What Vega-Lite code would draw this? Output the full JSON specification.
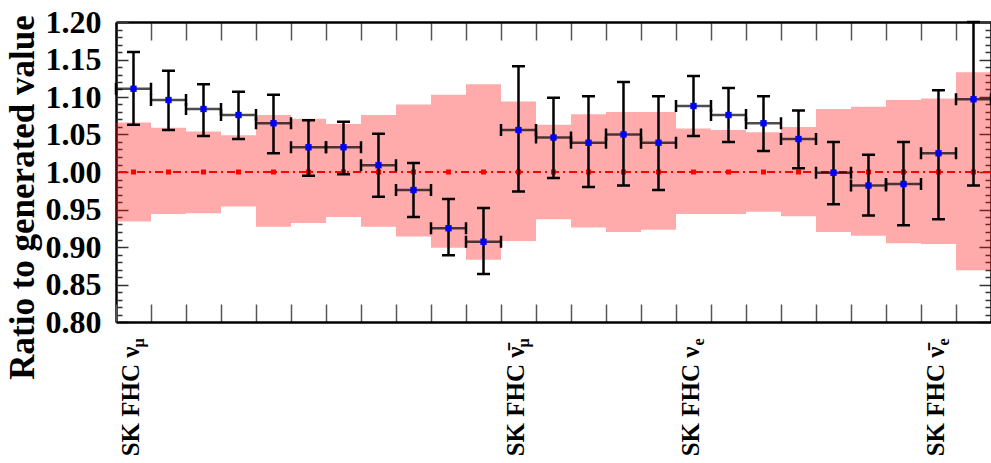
{
  "$schema": "https://vega.github.io/schema/vega-lite/v6.json",
  "width": 875,
  "height": 300,
  "autosize": {"type": "none"},
  "padding": {"left": 116, "top": 22, "right": 0, "bottom": 141},
  "background": "white",
  "config": {"view": {"stroke": null}, "axis": {"grid": false}},
  "data": {"values": [
    {"b": 0, "v": 1.111, "lo": 1.063, "hi": 1.160, "blo": 0.934, "bhi": 1.066},
    {"b": 1, "v": 1.096, "lo": 1.056, "hi": 1.135, "blo": 0.944, "bhi": 1.059},
    {"b": 2, "v": 1.084, "lo": 1.048, "hi": 1.117, "blo": 0.945, "bhi": 1.054},
    {"b": 3, "v": 1.076, "lo": 1.044, "hi": 1.107, "blo": 0.954, "bhi": 1.049},
    {"b": 4, "v": 1.065, "lo": 1.025, "hi": 1.103, "blo": 0.927, "bhi": 1.076},
    {"b": 5, "v": 1.033, "lo": 0.995, "hi": 1.069, "blo": 0.932, "bhi": 1.071},
    {"b": 6, "v": 1.033, "lo": 0.997, "hi": 1.067, "blo": 0.940, "bhi": 1.064},
    {"b": 7, "v": 1.009, "lo": 0.967, "hi": 1.051, "blo": 0.927, "bhi": 1.076},
    {"b": 8, "v": 0.976, "lo": 0.940, "hi": 1.012, "blo": 0.914, "bhi": 1.090},
    {"b": 9, "v": 0.925, "lo": 0.889, "hi": 0.964, "blo": 0.899, "bhi": 1.103},
    {"b": 10, "v": 0.907, "lo": 0.864, "hi": 0.952, "blo": 0.883, "bhi": 1.117},
    {"b": 11, "v": 1.056, "lo": 0.974, "hi": 1.141, "blo": 0.908, "bhi": 1.094},
    {"b": 12, "v": 1.046, "lo": 0.992, "hi": 1.099, "blo": 0.937, "bhi": 1.063},
    {"b": 13, "v": 1.039, "lo": 0.980, "hi": 1.101, "blo": 0.926, "bhi": 1.077},
    {"b": 14, "v": 1.050, "lo": 0.982, "hi": 1.120, "blo": 0.920, "bhi": 1.080},
    {"b": 15, "v": 1.039, "lo": 0.976, "hi": 1.101, "blo": 0.923, "bhi": 1.080},
    {"b": 16, "v": 1.088, "lo": 1.048, "hi": 1.128, "blo": 0.944, "bhi": 1.058},
    {"b": 17, "v": 1.076, "lo": 1.040, "hi": 1.112, "blo": 0.944, "bhi": 1.056},
    {"b": 18, "v": 1.065, "lo": 1.028, "hi": 1.101, "blo": 0.947, "bhi": 1.053},
    {"b": 19, "v": 1.044, "lo": 1.005, "hi": 1.082, "blo": 0.941, "bhi": 1.060},
    {"b": 20, "v": 0.999, "lo": 0.957, "hi": 1.040, "blo": 0.920, "bhi": 1.084},
    {"b": 21, "v": 0.982, "lo": 0.942, "hi": 1.023, "blo": 0.915, "bhi": 1.087},
    {"b": 22, "v": 0.984, "lo": 0.929, "hi": 1.040, "blo": 0.905, "bhi": 1.096},
    {"b": 23, "v": 1.025, "lo": 0.937, "hi": 1.109, "blo": 0.904, "bhi": 1.098},
    {"b": 24, "v": 1.097, "lo": 0.982, "hi": 1.200, "blo": 0.869, "bhi": 1.133}
  ]},
  "resolve": {"axis": {"x": "independent", "y": "independent"}},
  "layer": [
    {
      "mark": {"type": "rect", "fill": "#ff0000", "fillOpacity": 0.33},
      "encoding": {
        "x": {"field": "b", "type": "ordinal", "scale": {"paddingInner": 0, "paddingOuter": 0},
          "axis": {"orient": "bottom", "tickBand": "extent", "labels": false, "title": null, "tickSize": -18, "tickColor": "#555555", "tickWidth": 1.5, "domain": true, "domainColor": "black", "domainWidth": 2.5}},
        "y": {"field": "blo", "type": "quantitative", "scale": {"domain": [0.8, 1.2], "nice": false, "zero": false},
          "axis": {"orient": "left", "values": [0.8, 0.85, 0.9, 0.95, 1.0, 1.05, 1.1, 1.15, 1.2], "format": ".2f", "ticks": false, "domain": true, "domainColor": "black", "domainWidth": 2.5,
            "labelFont": "Liberation Serif", "labelFontWeight": "bold", "labelFontSize": 32, "labelColor": "black", "labelPadding": 15,
            "title": "Ratio to generated value", "titleFont": "Liberation Serif", "titleFontWeight": "bold", "titleFontSize": 35, "titleColor": "black",
            "titleAngle": 270, "titleAlign": "center", "titleBaseline": "alphabetic", "titleX": -83, "titleY": 175}},
        "y2": {"field": "bhi"}
      }
    },
    {
      "mark": {"type": "rule", "color": "#ff0000", "strokeWidth": 1.5, "strokeDash": [8, 4, 2, 4]},
      "encoding": {
        "y": {"datum": 1, "type": "quantitative",
          "axis": {"orient": "left", "values": [0.8, 0.85, 0.9, 0.95, 1.0, 1.05, 1.1, 1.15, 1.2], "labels": false, "domain": false, "title": null, "tickSize": -12, "tickColor": "#333333", "tickWidth": 1.5}}
      }
    },
    {
      "mark": {"type": "point", "shape": "square", "filled": true, "color": "#ff0000", "size": 25, "opacity": 1},
      "encoding": {
        "x": {"field": "b", "type": "ordinal",
          "axis": {"orient": "top", "tickBand": "extent", "labels": false, "title": null, "tickSize": -18, "tickColor": "#555555", "tickWidth": 1.5, "domain": true, "domainColor": "black", "domainWidth": 2.5}},
        "y": {"datum": 1, "type": "quantitative",
          "axis": {"orient": "left", "values": [0.81, 0.82, 0.83, 0.84, 0.86, 0.87, 0.88, 0.89, 0.91, 0.92, 0.93, 0.94, 0.96, 0.97, 0.98, 0.99, 1.01, 1.02, 1.03, 1.04, 1.06, 1.07, 1.08, 1.09, 1.11, 1.12, 1.13, 1.14, 1.16, 1.17, 1.18, 1.19], "labels": false, "domain": false, "title": null, "tickSize": -6, "tickColor": "#333333", "tickWidth": 1.5}}
      }
    },
    {
      "mark": {"type": "rule", "color": "black", "strokeWidth": 2.5},
      "encoding": {
        "x": {"field": "b", "type": "ordinal",
          "axis": {"orient": "bottom", "values": [0, 11, 16, 23], "ticks": false, "domain": false, "title": null,
            "labelExpr": "datum.value == 0 ? 'SK FHC \u03bd' : datum.value == 11 ? 'SK FHC \u03bd\u0304' : datum.value == 16 ? 'SK FHC \u03bd' : 'SK FHC \u03bd\u0304'",
            "labelAngle": 270, "labelAlign": "right", "labelBaseline": "middle", "labelFont": "Liberation Serif", "labelFontWeight": "bold", "labelFontSize": 25, "labelColor": "black", "labelPadding": 24, "labelOffset": -3, "labelOverlap": false}},
        "y": {"field": "lo", "type": "quantitative",
          "axis": {"orient": "right", "values": [0.8, 0.85, 0.9, 0.95, 1.0, 1.05, 1.1, 1.15, 1.2], "labels": false, "domain": true, "domainColor": "black", "domainWidth": 2.5, "title": null, "tickSize": -12, "tickColor": "#333333", "tickWidth": 1.5}},
        "y2": {"field": "hi"}
      }
    },
    {
      "mark": {"type": "tick", "color": "black", "thickness": 2.5, "size": 35, "orient": "horizontal"},
      "encoding": {
        "x": {"field": "b", "type": "ordinal",
          "axis": {"orient": "bottom", "values": [0, 11, 16, 23], "ticks": false, "domain": false, "title": null,
            "labelExpr": "datum.value == 0 || datum.value == 11 ? '\u03bc' : 'e'",
            "labelAngle": 270, "labelAlign": "right", "labelBaseline": "middle", "labelFont": "Liberation Serif", "labelFontWeight": "bold", "labelFontSize": 16, "labelColor": "black", "labelPadding": 16, "labelOffset": 5, "labelOverlap": false}},
        "y": {"field": "v", "type": "quantitative",
          "axis": {"orient": "right", "values": [0.81, 0.82, 0.83, 0.84, 0.86, 0.87, 0.88, 0.89, 0.91, 0.92, 0.93, 0.94, 0.96, 0.97, 0.98, 0.99, 1.01, 1.02, 1.03, 1.04, 1.06, 1.07, 1.08, 1.09, 1.11, 1.12, 1.13, 1.14, 1.16, 1.17, 1.18, 1.19], "labels": false, "domain": false, "title": null, "tickSize": -6, "tickColor": "#333333", "tickWidth": 1.5}}
      }
    },
    {
      "mark": {"type": "point", "shape": "M0,-1V1", "size": 144, "stroke": "black", "strokeWidth": 2.5, "filled": false, "opacity": 1},
      "encoding": {
        "x": {"field": "b", "type": "ordinal", "bandPosition": 0, "axis": null},
        "y": {"field": "v", "type": "quantitative", "axis": null}
      }
    },
    {
      "mark": {"type": "point", "shape": "M0,-1V1", "size": 144, "stroke": "black", "strokeWidth": 2.5, "filled": false, "opacity": 1},
      "encoding": {
        "x": {"field": "b", "type": "ordinal", "bandPosition": 1, "axis": null},
        "y": {"field": "v", "type": "quantitative", "axis": null}
      }
    },
    {
      "mark": {"type": "point", "shape": "M-1,0H1", "size": 169, "stroke": "black", "strokeWidth": 2.5, "filled": false, "opacity": 1},
      "encoding": {
        "x": {"field": "b", "type": "ordinal", "axis": null},
        "y": {"field": "lo", "type": "quantitative", "axis": null}
      }
    },
    {
      "mark": {"type": "point", "shape": "M-1,0H1", "size": 169, "stroke": "black", "strokeWidth": 2.5, "filled": false, "opacity": 1},
      "encoding": {
        "x": {"field": "b", "type": "ordinal", "axis": null},
        "y": {"field": "hi", "type": "quantitative", "axis": null}
      }
    },
    {
      "mark": {"type": "point", "shape": "square", "filled": true, "color": "#0000ff", "size": 40, "opacity": 1},
      "encoding": {
        "x": {"field": "b", "type": "ordinal", "axis": null},
        "y": {"field": "v", "type": "quantitative", "axis": null}
      }
    }
  ]
}
